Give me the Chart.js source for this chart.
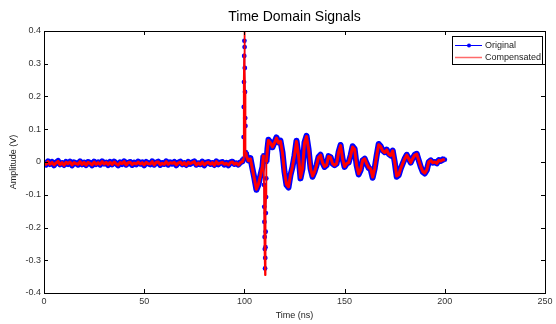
<!DOCTYPE html>
<html>
<head>
<meta charset="utf-8">
<script src="https://cdn.jsdelivr.net/npm/chart.js@4.4.1/dist/chart.umd.min.js"></script>
<style>
  html, body { margin: 0; padding: 0; background: #fff; }
  canvas { display: block; }
</style>
</head>
<body>
<canvas id="signalChart" width="556" height="324"></canvas>
<script>
// sample times (ns); extra samples sit on the two spikes
var timeNs = [
  0,1,2,3,4,5,6,7,8,9,10,11,12,13,14,15,16,17,18,19,
  20,21,22,23,24,25,26,27,28,29,30,31,32,33,34,35,36,37,38,39,
  40,41,42,43,44,45,46,47,48,49,50,51,52,53,54,55,56,57,58,59,
  60,61,62,63,64,65,66,67,68,69,70,71,72,73,74,75,76,77,78,79,
  80,81,82,83,84,85,86,87,88,89,90,91,92,93,94,95,96,97,98,99,
  99.5,99.6,99.7,99.8,99.9,100,100.1,100.2,100.3,100.4,100.5,100.7,
  101,102,103,104,105,106,107,108,109,109.5,
  109.8,109.9,110,110.1,110.2,110.3,110.4,110.5,110.6,110.7,110.8,110.9,111,111.5,
  112,113,114,115,116,117,118,119,120,121,122,123,124,125,126,127,128,129,130,
  131,132,133,134,135,136,137,138,139,140,141,142,143,144,145,146,147,148,149,150,
  151,152,153,154,155,156,157,158,159,160,161,162,163,164,165,166,167,168,169,170,
  171,172,173,174,175,176,177,178,179,180,181,182,183,184,185,186,187,188,189,190,
  191,192,193,194,195,196,197,198,199,200
];

var original = [
  -0.001,-0.008,0.002,-0.006,0.000,-0.010,-0.002,0.003,-0.007,-0.003,-0.009,0.000,-0.006,0.001,-0.010,-0.001,-0.004,-0.008,0.002,-0.007,
  -0.002,-0.009,0.000,-0.003,-0.010,0.001,-0.006,-0.001,-0.008,0.002,-0.005,-0.002,-0.009,0.000,-0.007,0.001,-0.004,-0.010,-0.001,-0.006,
  0.002,-0.008,-0.003,0.000,-0.009,-0.002,-0.007,0.001,-0.005,-0.001,-0.010,0.000,-0.004,-0.007,0.002,-0.008,-0.002,0.001,-0.009,-0.003,
  -0.006,0.002,-0.008,-0.001,-0.005,0.000,-0.010,-0.002,0.001,-0.007,-0.003,-0.009,0.000,-0.006,-0.001,0.002,-0.008,-0.004,-0.007,0.001,
  -0.010,-0.002,0.000,-0.006,-0.003,-0.009,0.002,-0.007,-0.002,0.000,-0.008,-0.003,-0.010,-0.001,0.001,-0.006,-0.004,-0.008,-0.001,0.002,
  0.010,0.076,0.168,0.244,0.324,0.370,0.351,0.287,0.214,0.134,0.110,0.030,
  0.020,0.005,0.012,-0.020,-0.050,-0.085,-0.070,-0.040,-0.015,0.020,
  -0.070,-0.137,-0.183,-0.229,-0.266,-0.325,-0.293,-0.260,-0.213,-0.156,-0.107,-0.050,0.000,0.040,
  0.068,0.060,0.045,0.060,0.075,0.060,0.065,0.030,-0.030,-0.070,-0.078,-0.040,-0.015,0.020,0.065,0.020,-0.050,-0.020,0.060,
  0.080,0.040,-0.020,-0.045,-0.030,-0.010,0.015,0.022,-0.002,-0.015,-0.010,0.018,0.015,-0.005,-0.010,-0.005,0.030,0.052,0.010,-0.015,
  -0.005,-0.002,0.020,0.048,0.040,-0.010,-0.038,-0.025,0.005,0.010,-0.005,-0.018,-0.022,-0.048,-0.020,0.020,0.055,0.048,0.035,0.030,
  0.038,0.025,0.020,0.035,0.000,-0.045,-0.040,-0.020,-0.005,0.010,0.022,0.010,-0.002,0.012,0.022,0.025,0.005,-0.015,-0.030,-0.035,
  -0.025,0.000,0.005,-0.002,0.000,-0.004,0.006,0.003,0.008,0.007
];

var compensated = [
  -0.002,-0.007,0.001,-0.007,-0.001,-0.009,-0.003,0.002,-0.008,-0.002,-0.010,-0.001,-0.005,0.000,-0.009,-0.002,-0.005,-0.007,0.001,-0.008,
  -0.001,-0.010,-0.001,-0.004,-0.009,0.000,-0.007,-0.002,-0.007,0.001,-0.006,-0.001,-0.008,-0.001,-0.008,0.000,-0.005,-0.009,-0.002,-0.005,
  0.001,-0.009,-0.002,-0.001,-0.008,-0.003,-0.006,0.000,-0.006,-0.002,-0.009,-0.001,-0.005,-0.006,0.001,-0.009,-0.001,0.000,-0.008,-0.004,
  -0.007,0.001,-0.007,-0.002,-0.004,-0.001,-0.009,-0.003,0.000,-0.008,-0.002,-0.010,-0.001,-0.005,-0.002,0.001,-0.009,-0.003,-0.008,0.000,
  -0.009,-0.003,-0.001,-0.007,-0.002,-0.010,0.001,-0.006,-0.003,-0.001,-0.007,-0.004,-0.009,-0.002,0.000,-0.007,-0.003,-0.009,-0.002,0.001,
  0.010,0.080,0.170,0.250,0.330,0.420,0.355,0.290,0.215,0.135,0.110,0.030,
  0.018,0.004,0.010,-0.022,-0.052,-0.083,-0.068,-0.042,-0.013,0.022,
  -0.072,-0.140,-0.186,-0.232,-0.270,-0.345,-0.296,-0.262,-0.215,-0.158,-0.108,-0.050,0.000,0.040,
  0.066,0.058,0.046,0.058,0.073,0.058,0.063,0.028,-0.030,-0.068,-0.076,-0.040,-0.014,0.020,0.063,0.020,-0.048,-0.020,0.058,
  0.078,0.040,-0.020,-0.043,-0.030,-0.010,0.014,0.021,-0.002,-0.014,-0.010,0.017,0.014,-0.005,-0.010,-0.005,0.029,0.050,0.010,-0.014,
  -0.005,-0.002,0.019,0.046,0.039,-0.010,-0.036,-0.024,0.005,0.010,-0.005,-0.017,-0.021,-0.046,-0.020,0.019,0.053,0.047,0.034,0.029,
  0.037,0.024,0.020,0.034,0.000,-0.043,-0.039,-0.020,-0.005,0.010,0.021,0.010,-0.002,0.011,0.021,0.024,0.005,-0.014,-0.029,-0.034,
  -0.024,0.000,0.005,-0.002,0.000,-0.004,0.005,0.003,0.007,0.007
];

var seriesNames = ["Original", "Compensated"];
var seriesColors = ["#0000ff", "#ff0000"];

function toPoints(values) {
  return timeNs.map(function (t, i) { return { x: t, y: values[i] }; });
}

// steep segments (the two spikes) are drawn thin, the rest as a fat trace
function spikeWidth(thin, thick) {
  return function (c) {
    var dx = c.p1.parsed.x - c.p0.parsed.x;
    var dy = Math.abs(c.p1.parsed.y - c.p0.parsed.y);
    return dy / dx > 0.15 ? thin : thick;
  };
}

// MATLAB-like box with inward ticks, plus the boxed legend in the corner
var matlabFrame = {
  id: "matlabFrame",
  afterDraw: function (chart) {
    var ctx = chart.ctx;
    var a = chart.chartArea;
    var x = chart.scales.x;
    var y = chart.scales.y;
    ctx.save();
    ctx.strokeStyle = "#000";
    ctx.lineWidth = 1;
    ctx.strokeRect(Math.round(a.left) + 0.5, Math.round(a.top) + 0.5,
      Math.round(a.right - a.left), Math.round(a.bottom - a.top));
    ctx.beginPath();
    x.ticks.forEach(function (tk) {
      var px = Math.round(x.getPixelForValue(tk.value)) + 0.5;
      ctx.moveTo(px, a.bottom); ctx.lineTo(px, a.bottom - 4);
      ctx.moveTo(px, a.top); ctx.lineTo(px, a.top + 4);
    });
    y.ticks.forEach(function (tk) {
      var py = Math.round(y.getPixelForValue(tk.value)) + 0.5;
      ctx.moveTo(a.left, py); ctx.lineTo(a.left + 4, py);
      ctx.moveTo(a.right, py); ctx.lineTo(a.right - 4, py);
    });
    ctx.stroke();

    // legend
    var bx = 452, by = 36, bw = 90, bh = 28;
    ctx.fillStyle = "#fff";
    ctx.fillRect(bx, by, bw, bh);
    ctx.strokeRect(bx + 0.5, by + 0.5, bw, bh);
    ctx.font = "9px 'Liberation Sans', Arial, sans-serif";
    ctx.textBaseline = "middle";
    ctx.textAlign = "left";
    var rows = [by + 9, by + 21];
    ctx.lineWidth = 1;
    ctx.strokeStyle = seriesColors[0];
    ctx.beginPath(); ctx.moveTo(455, rows[0] + 0.5); ctx.lineTo(482, rows[0] + 0.5); ctx.stroke();
    ctx.fillStyle = seriesColors[0];
    ctx.beginPath(); ctx.arc(469, rows[0] + 0.5, 2, 0, Math.PI * 2); ctx.fill();
    ctx.lineWidth = 1.5;
    ctx.strokeStyle = "#ff6a6a";
    ctx.beginPath(); ctx.moveTo(455, rows[1] + 0.5); ctx.lineTo(482, rows[1] + 0.5); ctx.stroke();
    ctx.fillStyle = "#222";
    ctx.fillText(seriesNames[0], 485, rows[0] + 1);
    ctx.fillText(seriesNames[1], 485, rows[1] + 1);
    ctx.restore();
  }
};

var tickFont = { family: "'Liberation Sans', Arial, sans-serif", size: 9 };

var signalChart = new Chart(document.getElementById("signalChart"), {
  type: "line",
  data: {
    datasets: [
      {
        label: seriesNames[0],
        data: toPoints(original),
        borderColor: seriesColors[0],
        backgroundColor: seriesColors[0],
        borderWidth: 6,
        segment: { borderWidth: spikeWidth(1, 6) },
        pointRadius: 2.4,
        pointBorderWidth: 0,
        pointBackgroundColor: seriesColors[0],
        borderJoinStyle: "round",
        tension: 0,
        order: 1
      },
      {
        label: seriesNames[1],
        data: toPoints(compensated),
        borderColor: seriesColors[1],
        borderWidth: 3,
        segment: { borderWidth: spikeWidth(1.8, 3) },
        borderJoinStyle: "round",
        pointRadius: 0,
        tension: 0,
        order: 0
      }
    ]
  },
  options: {
    responsive: false,
    animation: false,
    layout: { padding: { left: 0, right: 11, top: 0, bottom: 0 } },
    plugins: {
      legend: { display: false },
      tooltip: { enabled: false },
      title: {
        display: true,
        fullSize: false,
        text: "Time Domain Signals",
        color: "#000",
        font: { family: "'Liberation Sans', Arial, sans-serif", size: 14, weight: "normal" },
        padding: { top: 9, bottom: 5.2 }
      }
    },
    scales: {
      x: {
        type: "linear",
        min: 0,
        max: 250,
        ticks: { stepSize: 50, color: "#333", font: tickFont, padding: 3, maxRotation: 0 },
        grid: { display: false, drawTicks: false },
        border: { display: false },
        title: { display: true, text: "Time (ns)", color: "#222", font: tickFont, padding: { top: 0, bottom: 3 } },
        afterFit: function (s) { s.height = 31; s.paddingLeft = 0; s.paddingRight = 0; }
      },
      y: {
        min: -0.4,
        max: 0.4,
        ticks: {
          stepSize: 0.1,
          color: "#333",
          font: tickFont,
          padding: 3,
          callback: function (v) { return Math.abs(v) < 1e-9 ? "0" : v.toFixed(1); }
        },
        grid: { display: false, drawTicks: false },
        border: { display: false },
        title: { display: true, text: "Amplitude (V)", color: "#222", font: tickFont, padding: { top: 8, bottom: 0 } },
        afterFit: function (s) { s.width = 44; s.paddingTop = 0; s.paddingBottom = 0; }
      }
    }
  },
  plugins: [matlabFrame]
});
</script>
</body>
</html>
